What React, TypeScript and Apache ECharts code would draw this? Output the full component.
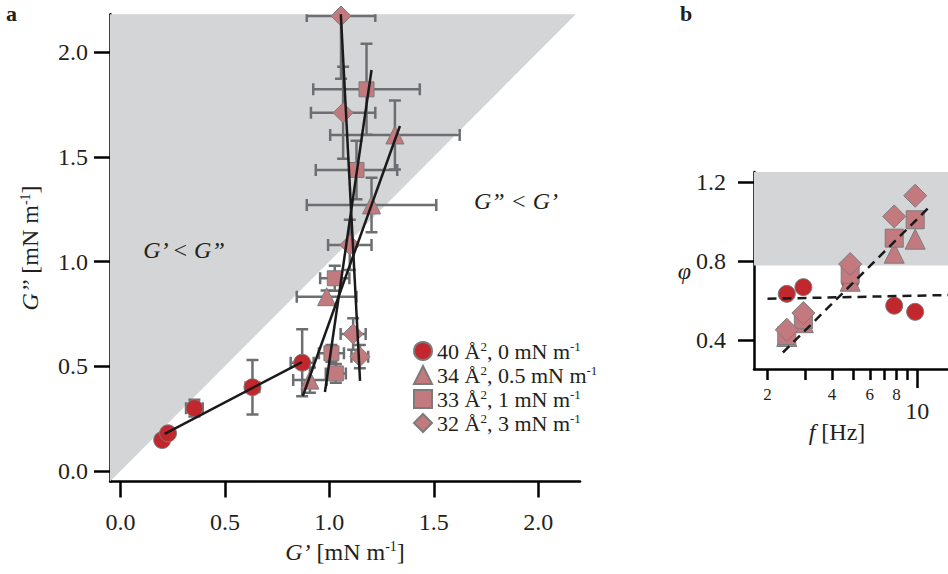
import React, { useEffect, useRef } from "react";
import * as echarts from "echarts";

const FONT = "Liberation Serif";
const TEXT = "#231f20";
const RED = "#c1272d";
const PINK = "#c27a7e";
const EDGE = "#7b7b7b";
const ERR = "#6d6e71";
const SHADE = "#d4d5d7";

// legend / series identity
const areas = [40, 34, 33, 32];
const pressures = ["0", "0.5", "1", "3"];
const seriesNames = areas.map((a, i) => `${a} Å², ${pressures[i]} mN m⁻¹`);
const symbols = ["circle", "triangle", "rect", "diamond"];
const fills = [RED, PINK, PINK, PINK];

// panel a: [G', G'', err G', err G'']  (mN m-1)
const aCircle = [
  [0.2, 0.148, 0.015, 0.015],
  [0.228, 0.18, 0.02, 0.02],
  [0.354, 0.3, 0.04, 0.04],
  [0.632, 0.4, 0.033, 0.13],
  [0.87, 0.517, 0.055, 0.16],
];
const aTriangle = [
  [0.907, 0.434, 0.08, 0.06],
  [0.987, 0.832, 0.143, 0.03],
  [1.202, 1.27, 0.31, 0.13],
  [1.314, 1.604, 0.31, 0.165],
];
const aSquare = [
  [1.031, 0.466, 0.048, 0.045],
  [1.01, 0.562, 0.06, 0.04],
  [1.026, 0.92, 0.07, 0.06],
  [1.13, 1.437, 0.195, 0.14],
  [1.178, 1.822, 0.255, 0.217],
];
const aDiamond = [
  [1.146, 0.546, 0.04, 0.055],
  [1.114, 0.654, 0.06, 0.075],
  [1.098, 1.079, 0.104, 0.12],
  [1.066, 1.71, 0.154, 0.22],
  [1.056, 2.172, 0.164, 0.3],
];
const aData = [aCircle, aTriangle, aSquare, aDiamond];

// panel a linear fits (end points)
const aFitCircle = [[0.212, 0.177], [0.869, 0.52]];
const aFitTriangle = [[0.873, 0.358], [1.338, 1.647]];
const aFitSquare = [[0.979, 0.377], [1.202, 1.914]];
const aFitDiamond = [[1.147, 0.43], [1.055, 2.18]];
const aFits = [aFitCircle, aFitTriangle, aFitSquare, aFitDiamond];

// panel b: [f (Hz), phi]
const bCircle = [[2.46, 0.636], [2.94, 0.67], [4.86, 0.694], [7.8, 0.576], [9.77, 0.545]];
const bTriangle = [[2.46, 0.42], [2.94, 0.49], [4.86, 0.7], [7.8, 0.842], [9.77, 0.913]];
const bSquare = [[2.46, 0.425], [2.94, 0.505], [4.86, 0.735], [7.8, 0.918], [9.77, 1.011]];
const bDiamond = [[2.46, 0.454], [2.94, 0.539], [4.86, 0.787], [7.8, 1.028], [9.77, 1.133]];
const bData = [bCircle, bTriangle, bSquare, bDiamond];

const bFitFlat = [[2.0, 0.611], [13.9, 0.63]];
const bFitSteep = [[2.36, 0.339], [11.65, 1.087]];

// ticks
const aTicks = [0, 0.5, 1.0, 1.5, 2.0];
const bYTicks = [0.4, 0.8, 1.2];
const bXMinorTicks = [2, 3, 4, 5, 6, 7, 8, 9];
const bXSmallLabels = [2, 4, 6, 8];
const bXMajorTicks = [10];

// axis ranges
const A_MIN = -0.05;
const A_XMAX = 2.2;
const A_YMAX = 2.18;
const B_FMIN = 1.73;
const B_FMAX = 13.9;
const B_YMIN = 0.2555;
const B_YMAX = 1.253;
const PHI_SHADE_LO = 0.78;

const symA = [17, 18, 15, 20];
const symB = [17, 20, 18, 23];

const lg = (v: number) => Math.log10(v);

function axisBase(ticks: number[], fontSize: number, margin: number, tickLen: number, fmt?: (v: number) => string) {
  return {
    axisLine: { show: true, onZero: false, lineStyle: { color: "#000", width: 2.5 } },
    axisTick: { show: true, inside: false, length: tickLen, customValues: ticks, lineStyle: { color: "#000", width: 2.5 } },
    axisLabel: { customValues: ticks, fontSize, fontFamily: FONT, color: TEXT, margin, formatter: fmt },
    splitLine: { show: false },
  };
}

const errRender = (params: any, api: any) => {
  const x = api.value(0), y = api.value(1), ex = api.value(2), ey = api.value(3);
  const c = api.coord([x, y]);
  const style = { stroke: ERR, lineWidth: 2.5, fill: "none" };
  const cap = 6;
  const children: any[] = [];
  if (ex > 0) {
    const l = api.coord([x - ex, y]);
    const r = api.coord([x + ex, y]);
    children.push({ type: "line", shape: { x1: l[0], y1: c[1], x2: r[0], y2: c[1] }, style });
    children.push({ type: "line", shape: { x1: l[0], y1: c[1] - cap, x2: l[0], y2: c[1] + cap }, style });
    children.push({ type: "line", shape: { x1: r[0], y1: c[1] - cap, x2: r[0], y2: c[1] + cap }, style });
  }
  if (ey > 0) {
    const t = api.coord([x, y + ey]);
    const b = api.coord([x, y - ey]);
    children.push({ type: "line", shape: { x1: c[0], y1: t[1], x2: c[0], y2: b[1] }, style });
    children.push({ type: "line", shape: { x1: c[0] - cap, y1: t[1], x2: c[0] + cap, y2: t[1] }, style });
    children.push({ type: "line", shape: { x1: c[0] - cap, y1: b[1], x2: c[0] + cap, y2: b[1] }, style });
  }
  return { type: "group", children };
};

function buildOption(): any {
  const series: any[] = [];

  // panel a shaded region G' < G''
  const shadeA = [[A_MIN, A_MIN], [A_YMAX, A_YMAX], [A_MIN, A_YMAX]];
  series.push({
    type: "custom", xAxisIndex: 0, yAxisIndex: 0, silent: true, z: 1,
    data: shadeA, encode: { x: 0, y: 1 },
    renderItem: (params: any, api: any) => {
      if (params.dataIndex !== 0) return null;
      const pts = shadeA.map((p) => api.coord(p));
      return { type: "polygon", shape: { points: pts }, style: { fill: SHADE } };
    },
  });

  // panel b shaded band
  series.push({
    type: "custom", xAxisIndex: 1, yAxisIndex: 1, silent: true, z: 1,
    data: [[lg(B_FMIN), PHI_SHADE_LO]], encode: { x: 0, y: 1 },
    renderItem: (params: any, api: any) => {
      const p1 = api.coord([lg(B_FMIN), B_YMAX]);
      const p2 = api.coord([lg(B_FMAX), PHI_SHADE_LO]);
      return { type: "rect", shape: { x: p1[0], y: p1[1], width: p2[0] - p1[0], height: p2[1] - p1[1] }, style: { fill: SHADE } };
    },
  });

  aData.forEach((d) => {
    series.push({
      type: "custom", xAxisIndex: 0, yAxisIndex: 0, silent: true, z: 2, clip: true,
      data: d, encode: { x: 0, y: 1 }, renderItem: errRender,
    });
  });

  aData.forEach((d, i) => {
    series.push({
      name: seriesNames[i], type: "scatter", xAxisIndex: 0, yAxisIndex: 0, z: 3,
      data: d.map((p) => [p[0], p[1]]), symbol: symbols[i], symbolSize: symA[i],
      itemStyle: { color: fills[i], borderColor: EDGE, borderWidth: 1, opacity: 1 },
    });
  });

  aFits.forEach((f) => {
    series.push({
      type: "line", xAxisIndex: 0, yAxisIndex: 0, z: 4, silent: true,
      data: f, symbol: "none", lineStyle: { color: "#1a1a1a", width: 2.5 },
    });
  });

  bData.forEach((d, i) => {
    series.push({
      name: seriesNames[i], type: "scatter", xAxisIndex: 1, yAxisIndex: 1, z: 3,
      data: d.map((p) => [lg(p[0]), p[1]]), symbol: symbols[i], symbolSize: symB[i],
      itemStyle: { color: fills[i], borderColor: EDGE, borderWidth: 1, opacity: 1 },
    });
  });

  [bFitFlat, bFitSteep].forEach((f) => {
    series.push({
      type: "line", xAxisIndex: 1, yAxisIndex: 1, z: 4, silent: true,
      data: f.map((p) => [lg(p[0]), p[1]]), symbol: "none",
      lineStyle: { color: "#1a1a1a", width: 2.5, type: [9, 6] },
    });
  });

  const sup = { fontSize: 14, fontFamily: FONT, color: TEXT, verticalAlign: "top", lineHeight: 14 };
  const ital = { fontStyle: "italic", fontSize: 24, fontFamily: FONT, color: TEXT };

  return {
    animation: false,
    backgroundColor: "#ffffff",
    textStyle: { fontFamily: FONT },
    grid: [
      { left: 110, top: 14.3, width: 470, height: 467.2 },
      { left: 754, top: 172, width: 194, height: 197 },
    ],
    xAxis: [
      {
        gridIndex: 0, type: "value", min: A_MIN, max: A_XMAX,
        ...axisBase(aTicks, 24, 28, 16, (v: number) => v.toFixed(1)),
        name: "{i|G’} [mN m{s|-1}]", nameLocation: "middle", nameGap: 58,
        nameTextStyle: { fontSize: 24, fontFamily: FONT, color: TEXT, rich: { i: ital, s: sup } },
      },
      {
        gridIndex: 1, type: "value", min: lg(B_FMIN), max: lg(B_FMAX), position: "bottom",
        axisLine: { show: true, onZero: false, lineStyle: { color: "#000", width: 2.5 } },
        axisTick: { show: true, inside: false, length: 11, customValues: bXMinorTicks.map(lg), lineStyle: { color: "#000", width: 2.5 } },
        axisLabel: { customValues: bXSmallLabels.map(lg), fontSize: 17, fontFamily: FONT, color: TEXT, margin: 17, formatter: (v: number) => String(Math.round(Math.pow(10, v))) },
        splitLine: { show: false },
      },
      {
        gridIndex: 1, type: "value", min: lg(B_FMIN), max: lg(B_FMAX), position: "bottom",
        axisLine: { show: false, onZero: false },
        axisTick: { show: true, inside: false, length: 19, customValues: bXMajorTicks.map(lg), lineStyle: { color: "#000", width: 2.5 } },
        axisLabel: { customValues: bXMajorTicks.map(lg), fontSize: 24, fontFamily: FONT, color: TEXT, margin: 30, formatter: (v: number) => String(Math.round(Math.pow(10, v))) },
        splitLine: { show: false },
      },
    ],
    yAxis: [
      {
        gridIndex: 0, type: "value", min: A_MIN, max: A_YMAX,
        ...axisBase(aTicks, 24, 22, 16, (v: number) => v.toFixed(1)),
        name: "{i|G’’} [mN m{s|-1}]", nameLocation: "middle", nameGap: 68,
        nameTextStyle: { fontSize: 24, fontFamily: FONT, color: TEXT, rich: { i: ital, s: sup } },
      },
      {
        gridIndex: 1, type: "value", min: B_YMIN, max: B_YMAX,
        ...axisBase(bYTicks, 24, 28, 16, (v: number) => v.toFixed(1)),
        name: "φ", nameLocation: "middle", nameRotate: 0, nameGap: 58,
        nameTextStyle: { fontSize: 24, fontStyle: "italic", fontFamily: FONT, color: TEXT },
      },
    ],
    legend: {
      orient: "vertical", left: 413, top: 340, itemWidth: 18, itemHeight: 18, itemGap: 2, padding: 0,
      data: seriesNames.map((n, i) => ({ name: n, icon: symbols[i] })),
      formatter: (name: string) => {
        const i = seriesNames.indexOf(name);
        return `${areas[i]} Å{s|2}, ${pressures[i]} mN m{s|-1}`;
      },
      textStyle: { fontSize: 22, fontFamily: FONT, color: TEXT, lineHeight: 22, rich: { s: { ...sup, fontSize: 13, lineHeight: 13 } } },
      selectedMode: false,
    },
    title: [
      { text: "a", left: 6, top: 2, padding: 0, textStyle: { fontWeight: "bold", fontSize: 22, fontFamily: FONT, color: TEXT } },
      { text: "b", left: 680, top: 2, padding: 0, textStyle: { fontWeight: "bold", fontSize: 22, fontFamily: FONT, color: TEXT } },
      { text: "G’ < G”", left: 184, top: 238, textAlign: "center", padding: 0, textStyle: { fontStyle: "italic", fontWeight: "normal", fontSize: 24, fontFamily: FONT, color: TEXT } },
      { text: "G” < G’", left: 516, top: 189, textAlign: "center", padding: 0, textStyle: { fontStyle: "italic", fontWeight: "normal", fontSize: 24, fontFamily: FONT, color: TEXT } },
      { text: "{i|f} [Hz]", left: 837, top: 420, textAlign: "center", padding: 0, textStyle: { fontWeight: "normal", fontSize: 24, fontFamily: FONT, color: TEXT, rich: { i: ital } } },
    ],
    series,
  };
}

export default function App() {
  const ref = useRef<HTMLDivElement>(null);
  useEffect(() => {
    document.body.style.margin = "0";
    const chart = echarts.init(ref.current as HTMLDivElement, null, { renderer: "svg" });
    chart.setOption(buildOption());
    return () => chart.dispose();
  }, []);
  return <div ref={ref} style={{ width: 948, height: 574 }} />;
}
